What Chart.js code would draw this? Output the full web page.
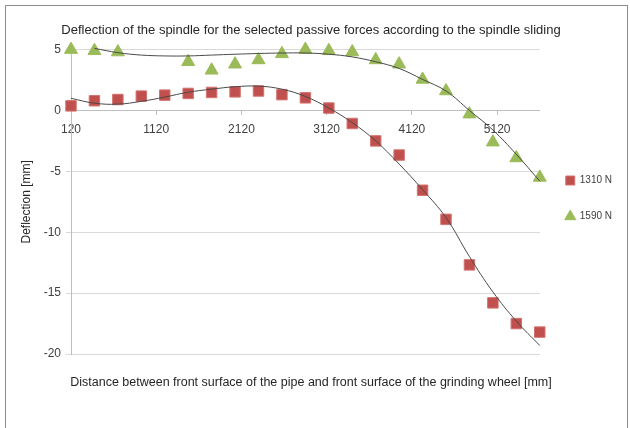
<!DOCTYPE html>
<html>
<head>
<meta charset="utf-8">
<script src="https://cdn.jsdelivr.net/npm/chart.js@4.4.1/dist/chart.umd.min.js"></script>
<style>
html, body { margin: 0; padding: 0; background: #fff; overflow: hidden; }
#frame { position: absolute; left: 5px; top: 5px; width: 621px; height: 440px; border: 1px solid #8c8c8c; }
#wrap { position: absolute; left: 0; top: 0; width: 630px; height: 428px; }
</style>
</head>
<body>
<div id="frame"></div>
<div id="wrap"><canvas id="chart" width="630" height="428"></canvas></div>
<script>
// distance between pipe and grinding wheel [mm]
var distance = [120, 395, 670, 945, 1220, 1495, 1770, 2045, 2320, 2595, 2870,
                3145, 3420, 3695, 3970, 4245, 4520, 4795, 5070, 5345, 5620];

// measured deflection [mm]
var defl1310 = [0.38, 0.8, 0.9, 1.18, 1.26, 1.4, 1.48, 1.53, 1.6, 1.3, 1.04,
                0.2, -1.07, -2.5, -3.66, -6.55, -8.94, -12.68, -15.8, -17.5, -18.2];
var defl1590 = [5.0, 4.9, 4.8, null, null, 4.0, 3.3, 3.8, 4.15, 4.65, 5.0,
                4.9, 4.8, 4.15, 3.8, 2.55, 1.6, -0.3, -2.6, -3.9, -5.5];

// trendlines
var trend1310 = [1.0, 0.6, 0.52, 0.75, 1.1, 1.5, 1.75, 1.95, 2.0, 1.75, 1.15,
                 0.2, -1.0, -2.5, -4.4, -6.5, -8.8, -12.0, -14.9, -17.3, -19.3];
var trend1590Dist = [395, 670, 945, 1220, 1495, 1770, 2045, 2320, 2595, 2870,
                     3145, 3420, 3695, 3970, 4245, 4520, 4795, 5070, 5345, 5620];
var trend1590 = [5.1, 4.75, 4.55, 4.48, 4.48, 4.55, 4.62, 4.68, 4.72, 4.72,
                 4.62, 4.4, 4.0, 3.45, 2.55, 1.6, 0.0, -1.6, -3.6, -5.8];

var xTicks = [120, 1120, 2120, 3120, 4120, 5120];
var seriesNames = ['1310 N', '1590 N'];

var FONT = '"Liberation Sans", Arial, sans-serif';

function toPoints(xs, ys) {
    var pts = [];
    for (var i = 0; i < xs.length; i++) {
        if (ys[i] !== null) pts.push({x: xs[i], y: ys[i]});
    }
    return pts;
}

// legend sits a bit higher than the chart middle in the original
var legendShift = {
    id: 'legendShift',
    afterLayout: function(c) {
        c.legend.top -= 8;
        c.legend.bottom -= 8;
    }
};

var chart = new Chart(document.getElementById('chart'), {
    type: 'scatter',
    plugins: [legendShift],
    data: {
        datasets: [{
            label: seriesNames[0],
            data: toPoints(distance, defl1310),
            pointStyle: 'rect',
            pointRadius: 7.4,
            backgroundColor: '#C0504D',
            borderColor: '#D47370',
            borderWidth: 1,
            order: 1
        }, {
            label: seriesNames[1],
            data: toPoints(distance, defl1590),
            pointStyle: 'triangle',
            pointRadius: 7.5,
            backgroundColor: '#9BBB59',
            borderColor: '#9BBB59',
            borderWidth: 1,
            order: 1
        }, {
            label: 'trend 1310',
            isTrend: true,
            data: toPoints(distance, trend1310),
            showLine: true,
            pointRadius: 0,
            borderColor: '#4a4a4a',
            borderWidth: 1,
            tension: 0.4,
            order: 0
        }, {
            label: 'trend 1590',
            isTrend: true,
            data: toPoints(trend1590Dist, trend1590),
            showLine: true,
            pointRadius: 0,
            borderColor: '#4a4a4a',
            borderWidth: 1,
            tension: 0.4,
            order: 0
        }]
    },
    options: {
        responsive: false,
        animation: false,
        events: [],
        clip: false,
        layout: { padding: { left: 0, right: 8, top: 23, bottom: 38 } },
        plugins: {
            title: {
                display: true,
                text: 'Deflection of the spindle for the selected passive forces according to the spindle sliding',
                color: '#262626',
                font: { family: FONT, size: 13, weight: 'normal' },
                padding: { top: 0, bottom: 11 }
            },
            subtitle: {
                display: true,
                position: 'bottom',
                text: 'Distance between front surface of the pipe and front surface of the grinding wheel [mm]',
                color: '#262626',
                font: { family: FONT, size: 12.5, weight: 'normal' },
                padding: { top: 21, bottom: 0 }
            },
            legend: {
                position: 'right',
                labels: {
                    usePointStyle: true,
                    boxWidth: 9,
                    boxHeight: 9,
                    padding: 26,
                    color: '#404040',
                    font: { family: FONT, size: 10 },
                    filter: function(item, data) {
                        return !data.datasets[item.datasetIndex].isTrend;
                    }
                }
            },
            tooltip: { enabled: false }
        },
        scales: {
            x: {
                type: 'linear',
                position: { y: 0 },
                min: distance[0],
                max: distance[distance.length - 1],
                afterBuildTicks: function(scale) {
                    scale.ticks = xTicks.map(function(v) { return {value: v}; });
                },
                grid: { drawOnChartArea: false, drawTicks: true, tickLength: 4, color: '#BFBFBF' },
                border: { color: '#BFBFBF' },
                ticks: {
                    color: '#404040',
                    font: { family: FONT, size: 12 },
                    padding: 8,
                    maxRotation: 0,
                    callback: function(v) { return String(v); }
                }
            },
            y: {
                min: -20,
                max: 5,
                afterFit: function(scale) { scale.width = 71; },
                ticks: { stepSize: 5, color: '#404040', font: { family: FONT, size: 12 }, padding: 5 },
                grid: { color: '#D9D9D9', tickLength: 5 },
                border: { color: '#BFBFBF' },
                title: {
                    display: true,
                    text: 'Deflection [mm]',
                    color: '#262626',
                    font: { family: FONT, size: 12 },
                    padding: { top: 19, bottom: 0 }
                }
            }
        }
    }
});
</script>
</body>
</html>
